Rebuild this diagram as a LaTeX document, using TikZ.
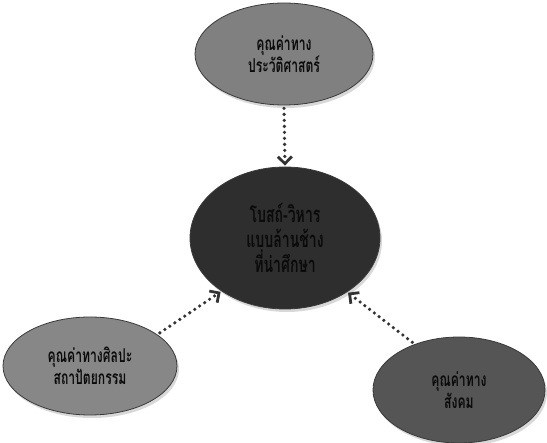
\documentclass[tikz,border=0pt]{standalone}
\usepackage{fontspec}
\newfontfamily\thaifont[Script=Thai,FakeStretch=0.64]{Loma}
\usetikzlibrary{shapes.geometric,arrows.meta}
\definecolor{gTop}{HTML}{808080}
\definecolor{gLeft}{HTML}{878787}
\definecolor{gRight}{HTML}{555555}
\definecolor{gCenter}{HTML}{2E2E2E}
\definecolor{gEdge}{HTML}{3A3A3A}
\definecolor{gArrow}{HTML}{333333}
\definecolor{gShadow}{HTML}{D8D8D8}
\definecolor{gText}{HTML}{0A0A0A}
\tikzset{
  bubble/.style={ellipse, draw=gEdge, line width=0.8pt, inner sep=0pt, align=center,
    text=gText},
  shade/.style={ellipse, fill=gShadow, draw=none, inner sep=0pt},
  conn/.style={draw=gArrow, line width=3.6pt, line cap=round, dash pattern=on 0pt off 6pt,
    -{Straight Barb[length=7pt,width=14pt,line width=2.8pt,line cap=butt]}, shorten >=1pt, shorten <=3pt}
}
\begin{document}
\begin{tikzpicture}[x=1pt,y=-1pt]
\useasboundingbox (0,0) rectangle (547,443);
% soft shadows
\node[shade, minimum width=178pt, minimum height=102pt] (topS) at (286,57) {};
\node[shade, minimum width=190pt, minimum height=142pt] (centerS) at (287,241) {};
\node[shade, minimum width=174pt, minimum height=98pt] (leftS) at (92,369) {};
\node[shade, minimum width=172pt, minimum height=106pt] (rightS) at (461,393) {};
% bubbles
\node[bubble, fill=gTop, minimum width=178pt, minimum height=102pt, font=\thaifont\bfseries\fontsize{19}{22}\selectfont] (top) at (284,54) {\color{gText}คุณค่าทาง\\\color{gText}ประวัติศาสตร์};
\node[bubble, fill=gCenter, minimum width=190pt, minimum height=142pt] (center) at (285,238) {};
\node[align=center, text=gText, inner sep=0pt, font=\thaifont\bfseries\fontsize{22}{25}\selectfont] (centerText) at (center) {\color{gText}โบสถ์-วิหาร\\\color{gText}แบบล้านช้าง\\\color{gText}ที่น่าศึกษา};
\node[bubble, fill=gLeft, minimum width=174pt, minimum height=98pt, font=\thaifont\bfseries\fontsize{19}{22}\selectfont] (left) at (90,366) {คุณค่าทางศิลปะ\\สถาปัตยกรรม};
\node[bubble, fill=gRight, minimum width=172pt, minimum height=106pt, font=\thaifont\bfseries\fontsize{19}{22}\selectfont] (right) at (459,390) {คุณค่าทาง\\สังคม};
\draw[conn] (top.south) -- (center.north);
\draw[conn] (left.25) -- (center.220);
\draw[conn] (right.134) -- (center.319);
\end{tikzpicture}
\end{document}
